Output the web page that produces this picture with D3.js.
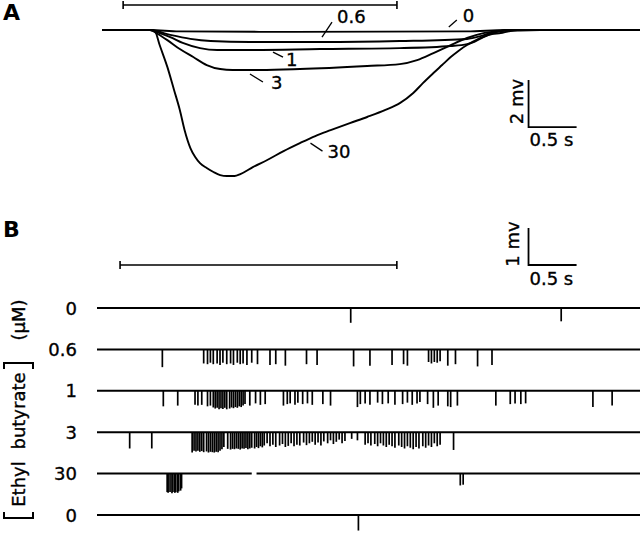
<!DOCTYPE html>
<html>
<head>
<meta charset="utf-8">
<script src="https://cdn.jsdelivr.net/npm/d3@7"></script>
<style>
  body { margin: 0; background: #fff; }
  svg { display: block; font-family: "DejaVu Sans", sans-serif; }
  .trace, .base, .bar { fill: none; stroke: #000; }
  text { fill: #000; stroke: #000; stroke-width: 0.35; }
  text.panel { stroke: none; }
</style>
</head>
<body>
<svg width="640" height="533"></svg>
<script>
// Panel A: receptor potential, [time s, potential mV] per ethyl butyrate concentration
const concA = ["0", "0.6", "1", "3", "30"];
const traceA0 = [[0, 0], [0.5, 0], [0.8, -0.06], [2.0, -0.08], [3.8, -0.06], [4.2, 0], [5.6, 0]];
const traceA06 = [[0, 0], [0.5, 0], [0.71, -0.21], [0.92, -0.38], [1.13, -0.47], [1.54, -0.51], [2.27, -0.51],
  [3.1, -0.47], [3.8, -0.38], [3.94, -0.26], [4.04, -0.13], [4.15, -0.04], [4.25, 0], [5.6, 0]];
const traceA1 = [[0, 0], [0.5, 0], [0.6, -0.13], [0.71, -0.3], [0.84, -0.55], [1.02, -0.77], [1.2, -0.85],
  [1.54, -0.85], [2.27, -0.81], [3.1, -0.77], [3.63, -0.68], [3.8, -0.6], [3.94, -0.34], [4.04, -0.17],
  [4.15, -0.04], [4.3, 0], [5.6, 0]];
const traceA3 = [[0, 0], [0.5, 0], [0.58, -0.17], [0.68, -0.43], [0.81, -0.81], [0.95, -1.15], [1.09, -1.49],
  [1.23, -1.66], [1.36, -1.7], [1.65, -1.7], [2.06, -1.66], [2.76, -1.53], [3.1, -1.45], [3.28, -1.28],
  [3.45, -0.98], [3.63, -0.64], [3.8, -0.34], [3.97, -0.13], [4.15, -0.04], [4.35, 0], [5.6, 0]];
const traceA30 = [[0, 0], [0.52, 0], [0.55, -0.04], [0.6, -0.64], [0.68, -1.57], [0.75, -2.55], [0.81, -3.4],
  [0.86, -4.26], [0.92, -5.02], [0.97, -5.4], [1.02, -5.66], [1.09, -5.87], [1.16, -6.04], [1.23, -6.17],
  [1.3, -6.21], [1.38, -6.21], [1.44, -6.13], [1.57, -5.83], [1.72, -5.53], [1.89, -5.15], [2.06, -4.81],
  [2.22, -4.51], [2.38, -4.26], [2.58, -3.96], [2.76, -3.7], [2.95, -3.4], [3.1, -3.11], [3.24, -2.68],
  [3.34, -2.26], [3.45, -1.83], [3.54, -1.49], [3.63, -1.15], [3.71, -0.89], [3.8, -0.64], [3.89, -0.47],
  [3.97, -0.3], [4.06, -0.17], [4.15, -0.13], [4.25, -0.04], [4.35, -0.02], [4.56, 0], [5.6, 0]];
const tracesA = [traceA0, traceA06, traceA1, traceA3, traceA30];
const stimA = [0.22, 3.07];

// Panel B: spike trains, [time s, spike amplitude mV] per row
const rowLabelsB = ["0", "0.6", "1", "3", "30", "0"];
const spikesB0 = [[2.64, 0.4], [4.83, 0.36]];
const spikesB06 = [[0.68, 0.48], [1.11, 0.38], [1.15, 0.4], [1.18, 0.36], [1.21, 0.4], [1.25, 0.38], [1.28, 0.42],
  [1.31, 0.36], [1.35, 0.4], [1.39, 0.38], [1.42, 0.42], [1.46, 0.36], [1.49, 0.4], [1.52, 0.38], [1.56, 0.42],
  [1.61, 0.36], [1.67, 0.4], [1.8, 0.42], [1.86, 0.4], [1.96, 0.44], [2.18, 0.4], [2.29, 0.42], [2.67, 0.46],
  [2.84, 0.44], [3.07, 0.42], [3.19, 0.4], [3.23, 0.44], [3.45, 0.34], [3.48, 0.38], [3.51, 0.34], [3.54, 0.36],
  [3.57, 0.32], [3.65, 0.44], [3.73, 0.4], [3.96, 0.46], [4.11, 0.42]];
const spikesB1 = [[0.69, 0.42], [0.84, 0.4], [1.02, 0.38], [1.05, 0.4], [1.09, 0.38], [1.15, 0.42], [1.18, 0.4],
  [1.21, 0.45], [1.23, 0.48], [1.25, 0.46], [1.27, 0.5], [1.29, 0.47], [1.31, 0.49], [1.33, 0.46], [1.35, 0.5],
  [1.38, 0.48], [1.4, 0.45], [1.42, 0.47], [1.44, 0.44], [1.46, 0.46], [1.48, 0.42], [1.5, 0.44], [1.52, 0.4],
  [1.54, 0.36], [1.59, 0.4], [1.65, 0.34], [1.7, 0.38], [1.75, 0.36], [1.94, 0.4], [1.98, 0.36], [2.01, 0.34],
  [2.06, 0.38], [2.09, 0.32], [2.14, 0.36], [2.19, 0.34], [2.24, 0.38], [2.35, 0.36], [2.43, 0.4], [2.71, 0.44],
  [2.74, 0.36], [2.79, 0.34], [2.84, 0.38], [2.92, 0.32], [2.97, 0.36], [3.03, 0.34], [3.1, 0.38], [3.18, 0.36],
  [3.23, 0.32], [3.28, 0.38], [3.33, 0.34], [3.36, 0.3], [3.44, 0.36], [3.5, 0.46], [3.55, 0.4], [3.65, 0.42],
  [3.68, 0.44], [3.75, 0.4], [4.15, 0.4], [4.3, 0.36], [4.35, 0.34], [4.41, 0.36], [4.46, 0.34], [5.16, 0.44],
  [5.36, 0.4]];
const spikesB3 = [[0.34, 0.44], [0.57, 0.44],
  [0.99, 0.55], [1.01, 0.5], [1.03, 0.52], [1.05, 0.5], [1.07, 0.53], [1.09, 0.51], [1.11, 0.54], [1.14, 0.52],
  [1.16, 0.55], [1.18, 0.53], [1.2, 0.54], [1.22, 0.55], [1.24, 0.53], [1.26, 0.54], [1.28, 0.5], [1.3, 0.46],
  [1.32, 0.4], [1.36, 0.45], [1.39, 0.47], [1.41, 0.45], [1.43, 0.46], [1.45, 0.44], [1.47, 0.45], [1.49, 0.47],
  [1.51, 0.44], [1.53, 0.45], [1.55, 0.43], [1.57, 0.46], [1.59, 0.44], [1.61, 0.42], [1.64, 0.44], [1.66, 0.4],
  [1.68, 0.43], [1.7, 0.38], [1.72, 0.41], [1.74, 0.36],
  [1.77, 0.3], [1.8, 0.38], [1.83, 0.34], [1.86, 0.4], [1.9, 0.36], [1.93, 0.32], [1.96, 0.4], [1.99, 0.37],
  [2.02, 0.3], [2.05, 0.38], [2.08, 0.34], [2.11, 0.36], [2.15, 0.28], [2.18, 0.35], [2.21, 0.3], [2.24, 0.26],
  [2.27, 0.34], [2.3, 0.28], [2.33, 0.36], [2.36, 0.25], [2.4, 0.3], [2.43, 0.22], [2.46, 0.32], [2.49, 0.26],
  [2.52, 0.2], [2.55, 0.3], [2.58, 0.24], [2.65, 0.18], [2.71, 0.22],
  [2.79, 0.34], [2.82, 0.3], [2.85, 0.36], [2.89, 0.32], [2.92, 0.38], [2.95, 0.3], [2.98, 0.36], [3.01, 0.4],
  [3.04, 0.34], [3.07, 0.38], [3.1, 0.42], [3.14, 0.36], [3.17, 0.4], [3.2, 0.44], [3.23, 0.38], [3.26, 0.42],
  [3.29, 0.46], [3.32, 0.4], [3.35, 0.44], [3.39, 0.38], [3.42, 0.42], [3.45, 0.36], [3.48, 0.4], [3.51, 0.3],
  [3.54, 0.38], [3.57, 0.34], [3.71, 0.48]];
const spikesB30 = [[0.73, 0.5], [0.74, 0.52], [0.76, 0.5], [0.78, 0.53], [0.79, 0.5], [0.81, 0.52], [0.82, 0.5],
  [0.84, 0.52], [0.85, 0.48], [0.87, 0.46], [0.88, 0.4], [3.78, 0.32], [3.81, 0.3]];
const spikesB0b = [[2.72, 0.42]];
const spikesB = [spikesB0, spikesB06, spikesB1, spikesB3, spikesB30, spikesB0b];
const gapsB = [[], [], [], [], [[1.61, 1.66]], []];
const stimB = [0.24, 3.12];

const svg = d3.select("svg");

// ---------- panel A ----------
const xA = d3.scaleLinear().domain([0, 5.6]).range([102, 640]);
const yA = d3.scaleLinear().domain([0, -6.21]).range([30, 176]);

const gA = svg.append("g");

gA.append("text").attr("class", "panel").attr("x", 3).attr("y", 20)
  .attr("font-size", 22).attr("font-weight", "bold").text("A");

// stimulus bar
gA.append("path").attr("class", "bar").attr("stroke-width", 1.6)
  .attr("d", `M${xA(stimA[0])},5H${xA(stimA[1])}M${xA(stimA[0])},1V9M${xA(stimA[1])},1V9`);

const lineA = d3.line().x((d) => xA(d[0])).y((d) => yA(d[1])).curve(d3.curveMonotoneX);

gA.selectAll("path.trace")
  .data(tracesA)
  .enter()
  .append("path")
  .attr("class", "trace")
  .attr("stroke-width", 1.9)
  .attr("d", lineA);

// concentration labels with leader lines
const notesA = [
  { label: "0.6", t: 2.29, v: -0.3, dx: 10, dy: -15, tx: 5, ty: 1 },
  { label: "0", t: 3.61, v: 0.13, dx: 8, dy: -7, tx: 6, ty: 2 },
  { label: "1", t: 1.78, v: -0.94, dx: 10, dy: 5, tx: 3, ty: 9 },
  { label: "3", t: 1.54, v: -1.87, dx: 13, dy: 8, tx: 8, ty: 7 },
  { label: "30", t: 2.17, v: -4.81, dx: 12, dy: 8, tx: 5, ty: 7 },
];
notesA.forEach((n) => {
  const x0 = xA(n.t), y0 = yA(n.v);
  gA.append("line").attr("stroke", "#000").attr("stroke-width", 1.3)
    .attr("x1", x0).attr("y1", y0).attr("x2", x0 + n.dx).attr("y2", y0 + n.dy);
  gA.append("text").attr("font-size", 18)
    .attr("x", x0 + n.dx + n.tx).attr("y", y0 + n.dy + n.ty).text(n.label);
});

// scale bar A: 2 mV, 0.5 s
const sbA = { t: 4.44, v: -4.13 };
gA.append("path").attr("class", "bar").attr("stroke-width", 1.8)
  .attr("d", `M${xA(sbA.t)},${yA(sbA.v + 2)}V${yA(sbA.v)}H${xA(sbA.t + 0.5)}`);
gA.append("text").attr("font-size", 18).attr("text-anchor", "middle")
  .attr("transform", `translate(${xA(sbA.t) - 6},${yA(sbA.v + 1) - 2}) rotate(-90)`).text("2 mv");
gA.append("text").attr("font-size", 18)
  .attr("x", xA(sbA.t) + 1).attr("y", yA(sbA.v) + 19).text("0.5 s");

// ---------- panel B ----------
const xB = d3.scaleLinear().domain([0, 5.65]).range([97, 640]);
const rowY = d3.scalePoint().domain(d3.range(6)).range([308, 515]);
const ampB = d3.scaleLinear().domain([0, 1]).range([0, 37]);

const gB = svg.append("g");

gB.append("text").attr("class", "panel").attr("x", 3).attr("y", 237)
  .attr("font-size", 22).attr("font-weight", "bold").text("B");

gB.append("path").attr("class", "bar").attr("stroke-width", 1.6)
  .attr("d", `M${xB(stimB[0])},265H${xB(stimB[1])}M${xB(stimB[0])},261V269M${xB(stimB[1])},261V269`);

// scale bar B: 1 mV, 0.5 s
const sbB = { t: 4.49, y: 265 };
gB.append("path").attr("class", "bar").attr("stroke-width", 1.8)
  .attr("d", `M${xB(sbB.t)},${sbB.y - ampB(1)}V${sbB.y}H${xB(sbB.t + 0.5)}`);
gB.append("text").attr("font-size", 18).attr("text-anchor", "middle")
  .attr("transform", `translate(${xB(sbB.t) - 10},${sbB.y - 21}) rotate(-90)`).text("1 mv");
gB.append("text").attr("font-size", 18)
  .attr("x", xB(sbB.t) + 1).attr("y", sbB.y + 20).text("0.5 s");

const rows = gB.selectAll("g.row")
  .data(spikesB)
  .enter()
  .append("g")
  .attr("class", "row")
  .attr("transform", (d, i) => `translate(0,${rowY(i)})`);

// baseline, broken where the record has gaps
rows.append("path")
  .attr("class", "base")
  .attr("stroke-width", 2)
  .attr("d", (d, i) => {
    let s = xB.domain()[0], p = "";
    gapsB[i].forEach((g) => { p += `M${xB(s)},0H${xB(g[0])}`; s = g[1]; });
    return p + `M${xB(s)},0H${xB(xB.domain()[1])}`;
  });

rows.selectAll("line")
  .data((d) => d)
  .enter()
  .append("line")
  .attr("stroke", "#000")
  .attr("stroke-width", 1.7)
  .attr("x1", (d) => xB(d[0]))
  .attr("x2", (d) => xB(d[0]))
  .attr("y1", 0)
  .attr("y2", (d) => ampB(d[1]));

rows.append("text")
  .attr("font-size", 18)
  .attr("text-anchor", "end")
  .attr("x", 77)
  .attr("y", 6.5)
  .text((d, i) => rowLabelsB[i]);

// concentration axis title, rotated
const yt = svg.append("g");
[["Ethyl", 484], ["butyrate", 411], ["(\u03bcM)", 320]].forEach((w) => {
  yt.append("text").attr("font-size", 18).attr("text-anchor", "middle")
    .attr("transform", `translate(25,${w[1]}) rotate(-90)`).text(w[0]);
});
yt.append("path").attr("class", "bar").attr("stroke-width", 2)
  .attr("d", "M4,512V518H33V512");
yt.append("path").attr("class", "bar").attr("stroke-width", 2)
  .attr("d", "M4,369V363H33V369");
</script>
</body>
</html>
